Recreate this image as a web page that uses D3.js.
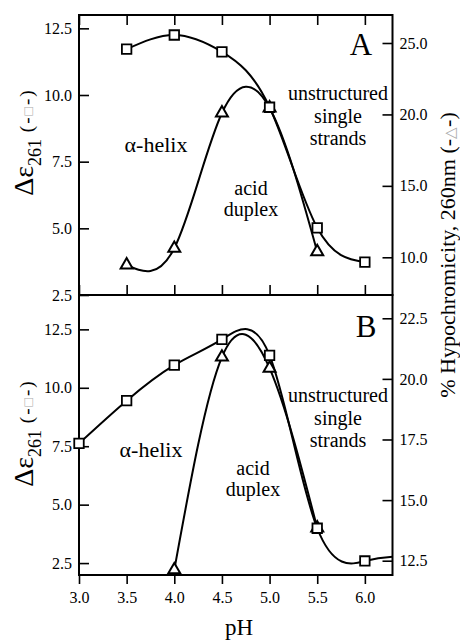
<!DOCTYPE html>
<html>
<head>
<meta charset="utf-8">
<script src="https://cdn.jsdelivr.net/npm/d3@7"></script>
<style>
  body { margin: 0; background: #fff; }
  text { font-family: "Liberation Serif", "Times New Roman", serif; }
</style>
</head>
<body>
<div id="chart"></div>
<script>
// data: [pH, value]
const squaresA   = [[3.5, 11.72], [4.0, 12.25], [4.5, 11.62], [5.0, 9.54], [5.5, 5.02], [6.0, 3.73]];
const trianglesA = [[3.5, 9.46], [4.0, 10.63], [4.5, 20.1], [5.0, 20.45], [5.5, 10.39]];
const squaresB   = [[3.0, 7.62], [3.5, 9.45], [4.0, 10.97], [4.5, 12.07], [5.0, 11.39], [5.5, 3.99], [6.0, 2.59]];
const fitTailB   = [[6.29, 2.77]]; // fitted curve runs on to the frame edge
const trianglesB = [[4.0, 12.12], [4.5, 20.9], [5.0, 20.44], [5.5, 13.85]];

const phTicks     = [3.0, 3.5, 4.0, 4.5, 5.0, 5.5, 6.0];
const leftTicks   = [2.5, 5.0, 7.5, 10.0, 12.5];
const rightTicksA = [10.0, 15.0, 20.0, 25.0];
const rightTicksB = [12.5, 15.0, 17.5, 20.0, 22.5];

const width = 460, height = 641;
const xL = 79, xR = 392.5, yTop = 15, yMid = 295, yBot = 575;

const svg = d3.select("#chart")
    .append("svg")
    .attr("width", width)
    .attr("height", height);

const x = d3.scaleLinear().domain([3.0, 6.29]).range([xL, xR]);

const yA  = d3.scaleLinear().domain([2.5, 13.0]).range([yMid, yTop]);
const yAr = d3.scaleLinear().domain([7.36, 26.96]).range([yMid, yTop]);
const yB  = d3.scaleLinear().domain([1.99, 13.97]).range([yBot, yMid]);
const yBr = d3.scaleLinear().domain([11.91, 23.46]).range([yBot, yMid]);

const fmt = d3.format(".1f");

function styleAxis(g) {
    g.select(".domain").remove();
    g.selectAll("line").attr("stroke", "#000").attr("stroke-width", 1.6);
    g.selectAll("text").attr("font-size", 16).attr("fill", "#000")
        .style("font-family", "'Liberation Serif', serif");
}

// ---- panel A axes
svg.append("g").attr("transform", `translate(${xL},0)`)
    .call(d3.axisLeft(yA).tickValues(leftTicks).tickFormat(fmt).tickSize(-10).tickPadding(7))
    .call(styleAxis);
svg.append("g").attr("transform", `translate(${xR},0)`)
    .call(d3.axisRight(yAr).tickValues(rightTicksA).tickFormat(fmt).tickSize(-10).tickPadding(7))
    .call(styleAxis);
svg.append("g").attr("transform", `translate(0,${yTop})`)
    .call(d3.axisTop(x).tickValues(phTicks).tickFormat("").tickSize(-10))
    .call(styleAxis);
svg.append("g").attr("transform", `translate(0,${yMid})`)
    .call(d3.axisBottom(x).tickValues(phTicks).tickFormat("").tickSize(-10))
    .call(styleAxis);

// ---- panel B axes
svg.append("g").attr("transform", `translate(${xL},0)`)
    .call(d3.axisLeft(yB).tickValues(leftTicks).tickFormat(fmt).tickSize(-10).tickPadding(7))
    .call(styleAxis);
svg.append("g").attr("transform", `translate(${xR},0)`)
    .call(d3.axisRight(yBr).tickValues(rightTicksB).tickFormat(fmt).tickSize(-10).tickPadding(7))
    .call(styleAxis);
svg.append("g").attr("transform", `translate(0,${yBot})`)
    .call(d3.axisBottom(x).tickValues(phTicks).tickFormat(fmt).tickSize(9).tickPadding(8))
    .call(styleAxis);

// frames
[[yTop, yMid], [yMid, yBot]].forEach(([t, b]) => {
    svg.append("rect")
        .attr("x", xL).attr("y", t)
        .attr("width", xR - xL).attr("height", b - t)
        .attr("fill", "none").attr("stroke", "#000").attr("stroke-width", 2);
});

// ---- curves
function curve(data, y) {
    return d3.line()
        .x(d => x(d[0]))
        .y(d => y(d[1]))
        .curve(d3.curveNatural)(data);
}
const curves = [
    [squaresA, yA], [trianglesA, yAr],
    [squaresB.concat(fitTailB), yB], [trianglesB, yBr]
];
curves.forEach(([data, y]) => {
    svg.append("path")
        .attr("d", curve(data, y))
        .attr("fill", "none")
        .attr("stroke", "#000")
        .attr("stroke-width", 2);
});

// ---- markers
const sq = d3.symbol().type(d3.symbolSquare).size(90);
const tri = d3.symbol().type(d3.symbolTriangle).size(62);
function markers(data, y, sym, sw) {
    svg.append("g").selectAll("path")
        .data(data)
        .join("path")
        .attr("transform", d => `translate(${x(d[0])},${y(d[1])})`)
        .attr("d", sym)
        .attr("fill", "#fff")
        .attr("stroke", "#000")
        .attr("stroke-width", sw);
}
markers(trianglesA, yAr, tri, 2);
markers(squaresA, yA, sq, 1.8);
markers(trianglesB, yBr, tri, 2);
markers(squaresB, yB, sq, 1.8);

// ---- region labels
function label(lines, cx, y0, step, size) {
    const t = svg.append("text")
        .attr("text-anchor", "middle")
        .attr("font-size", size);
    lines.forEach((s, i) => {
        t.append("tspan").attr("x", cx).attr("y", y0 + i * step).text(s);
    });
}
label(["α-helix"], 156, 152, 0, 22);
label(["acid", "duplex"], 251, 195, 21, 20);
label(["unstructured", "single", "strands"], 338, 100, 22.5, 20);
label(["α-helix"], 151, 457, 0, 22);
label(["acid", "duplex"], 253, 475, 21, 20);
label(["unstructured", "single", "strands"], 338, 402, 22.5, 20);

svg.append("text").attr("x", 361).attr("y", 55).attr("text-anchor", "middle")
    .attr("font-size", 31).text("A");
svg.append("text").attr("x", 366).attr("y", 337).attr("text-anchor", "middle")
    .attr("font-size", 31).text("B");

// ---- axis titles
function leftTitle(cy) {
    const t = svg.append("text")
        .attr("transform", `translate(33,${cy}) rotate(-90)`)
        .attr("text-anchor", "middle");
    t.append("tspan").attr("font-size", 28).text("Δε");
    t.append("tspan").attr("font-size", 18).attr("dy", 8).text("261");
    t.append("tspan").attr("font-size", 19).attr("dy", -8).attr("letter-spacing", 2).text(" (-");
    t.append("tspan").attr("font-size", 14).attr("fill", "#aaa").attr("letter-spacing", 2).text("□");
    t.append("tspan").attr("font-size", 19).attr("letter-spacing", 2).text("-)");
}
leftTitle(142);
leftTitle(433);

const rt = svg.append("text")
    .attr("transform", `translate(455,255) rotate(-90)`)
    .attr("text-anchor", "middle")
    .attr("font-size", 22);
rt.append("tspan").text("% Hypochromicity, 260nm (-");
rt.append("tspan").attr("fill", "#aaa").attr("font-size", 15).text("△");
rt.append("tspan").text("-)");

svg.append("text").attr("x", 239).attr("y", 635).attr("text-anchor", "middle")
    .attr("font-size", 23).text("pH");
</script>
</body>
</html>
